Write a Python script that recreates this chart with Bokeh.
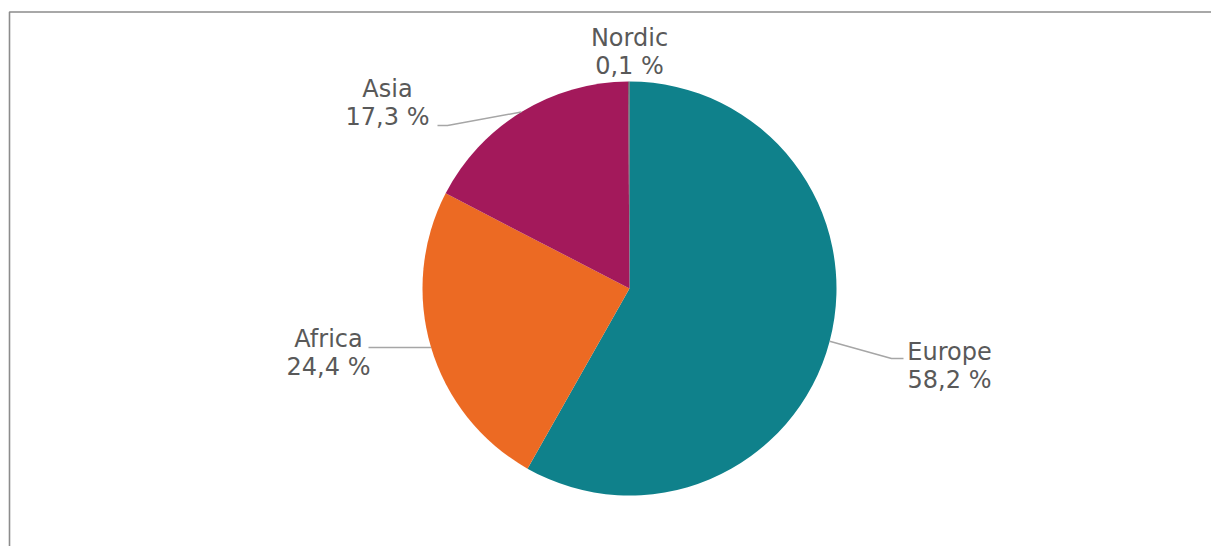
import numpy as np
from bokeh.plotting import figure
from bokeh.models import Range1d, ColumnDataSource
from bokeh.embed import file_html
from bokeh.resources import INLINE
from bokeh.core.properties import value

# ---- data ----
categories = ["Europe", "Africa", "Asia", "Nordic"]
shares = [58.2, 24.4, 17.3, 0.1]
colors = ["#0F818B", "#EC6A23", "#A3195B", "#5A4A55"]

# ---- layout (screen pixel positions) ----
W, H = 1211, 546
OFF = 0
CX, CY, R = 629, 288, 207          # pie centre / radius on screen
# label anchor: (centre x, reference y of first line) on screen
label_pos = {
    "Europe": (949, 351),
    "Africa": (328, 338),
    "Asia": (387, 88),
    "Nordic": (629, 37),
}
LINE_GAP = 28
# leader outer points on screen (from label towards slice)
leader_outer = {
    "Europe": [(903, 358), (891, 358)],
    "Africa": [(368, 347), (378, 347)],
    "Asia": [(437, 125), (447, 125)],
}


def dx(x):
    return x - OFF


def dy(y):
    return H - (y - OFF)


p = figure(width=W, height=H, x_range=Range1d(0, W), y_range=Range1d(0, H),
           output_backend="svg", toolbar_location=None, min_border=0,
           x_axis_location=None, y_axis_location=None)
p.grid.visible = False
p.outline_line_color = None
p.background_fill_color = "white"
p.border_fill_color = "white"

# chart-area frame (left and top edges visible)
p.line(x=[dx(9), dx(9), W + 5], y=[-5, dy(11.5), dy(11.5)],
       line_color="#8C8C8C", line_width=1.6)

# pie
vals = np.array(shares, dtype=float)
frac = vals / vals.sum()
cum_end = np.cumsum(frac)
cum_start = cum_end - frac
start_angle = np.pi / 2 - 2 * np.pi * cum_start
end_angle = np.pi / 2 - 2 * np.pi * cum_end
mid_angle = (start_angle + end_angle) / 2

src = ColumnDataSource(dict(cat=categories, start=start_angle, end=end_angle, color=colors))
p.wedge(x=dx(CX), y=dy(CY), radius=R, start_angle="start", end_angle="end",
        direction="clock", fill_color="color", line_color=None, source=src)

# leader lines
xs, ys = [], []
for i, c in enumerate(categories):
    if c not in leader_outer:
        continue
    ex = dx(CX) + R * np.cos(mid_angle[i])
    ey = dy(CY) + R * np.sin(mid_angle[i])
    pts = leader_outer[c]
    xs.append([dx(pts[0][0]), dx(pts[1][0]), ex])
    ys.append([dy(pts[0][1]), dy(pts[1][1]), ey])
p.multi_line(xs=xs, ys=ys, line_color="#A6A6A6", line_width=1.5)

# labels
lx, ly1, ly2, t1, t2 = [], [], [], [], []
for c, v in zip(categories, shares):
    x, y = label_pos[c]
    lx.append(dx(x))
    ly1.append(dy(y))
    ly2.append(dy(y + LINE_GAP))
    t1.append(c)
    t2.append(f"{v:.1f} %".replace(".", ","))

for yy, tt in ((ly1, t1), (ly2, t2)):
    p.text(x=lx, y=yy, text=tt, text_align="center", text_baseline="alphabetic",
           text_font=value("DejaVu Sans"), text_font_size="24px", text_color="#595959")

open("out.html", "w").write(file_html(p, INLINE))
